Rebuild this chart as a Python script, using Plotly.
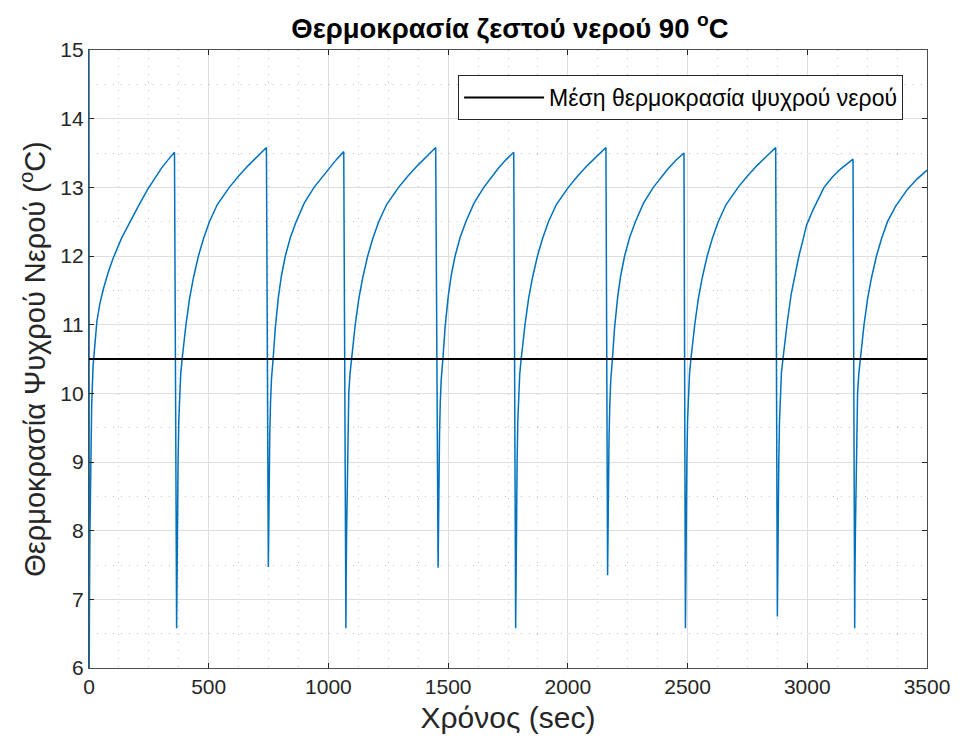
import plotly.graph_objects as go

# Cold-water temperature trace (seconds, °C), one row per charge/discharge cycle
time_s = [
    0, 1, 2, 4, 7, 11, 17, 25, 33, 45, 60, 80, 100, 136, 166, 205, 245, 275, 303, 330, 357,
    366, 367, 369, 372, 375, 378, 383, 389, 396, 405, 420, 436, 457, 478, 503, 536, 586, 626, 666, 706, 741,
    749, 750, 752, 755, 758, 762, 769, 778, 791, 804, 820, 841, 865, 899, 940, 969, 999, 1032, 1064,
    1073, 1074, 1076, 1079, 1082, 1085, 1090, 1096, 1103, 1112, 1127, 1143, 1164, 1185, 1210, 1243, 1293, 1333, 1373, 1413, 1448,
    1458, 1459, 1461, 1464, 1467, 1471, 1478, 1487, 1500, 1513, 1529, 1550, 1574, 1608, 1649, 1678, 1708, 1741, 1774,
    1782, 1783, 1785, 1788, 1791, 1794, 1799, 1805, 1812, 1821, 1836, 1852, 1873, 1894, 1919, 1952, 2002, 2042, 2082, 2122, 2159,
    2166, 2167, 2169, 2172, 2175, 2179, 2186, 2195, 2208, 2221, 2237, 2258, 2282, 2316, 2357, 2386, 2416, 2450, 2485,
    2491, 2492, 2494, 2497, 2500, 2503, 2508, 2514, 2521, 2530, 2545, 2561, 2582, 2603, 2628, 2661, 2711, 2751, 2791, 2831, 2868,
    2875, 2876, 2878, 2881, 2884, 2887, 2892, 2900, 2908, 2917, 2933, 2950, 2965, 2981, 2997, 3025, 3070, 3105, 3140, 3191,
    3198, 3199, 3201, 3204, 3207, 3210, 3215, 3221, 3228, 3237, 3252, 3268, 3289, 3310, 3335, 3368, 3418, 3458, 3500,
]
temp_c = [
    15.0, 6.0, 7.0, 8.0, 9.0, 9.8, 10.4, 10.8, 11.05, 11.3, 11.52, 11.76, 11.96, 12.26, 12.47, 12.72, 12.97, 13.14, 13.28, 13.4, 13.51,
    6.58, 7.3, 8.0, 9.0, 9.6, 10.0, 10.28, 10.5, 10.75, 11.0, 11.38, 11.68, 12.0, 12.25, 12.5, 12.75, 13.0, 13.17, 13.32, 13.46, 13.58,
    7.47, 8.0, 8.7, 9.4, 9.85, 10.2, 10.5, 10.95, 11.4, 11.72, 12.0, 12.27, 12.5, 12.77, 13.0, 13.13, 13.27, 13.4, 13.52,
    6.58, 7.3, 8.0, 9.0, 9.6, 10.0, 10.28, 10.5, 10.75, 11.0, 11.38, 11.68, 12.0, 12.25, 12.5, 12.75, 13.0, 13.17, 13.32, 13.46, 13.58,
    7.46, 8.0, 8.7, 9.4, 9.85, 10.2, 10.5, 10.95, 11.4, 11.72, 12.0, 12.27, 12.5, 12.77, 13.0, 13.13, 13.27, 13.4, 13.51,
    6.58, 7.3, 8.0, 9.0, 9.6, 10.0, 10.28, 10.5, 10.75, 11.0, 11.38, 11.68, 12.0, 12.25, 12.5, 12.75, 13.0, 13.17, 13.32, 13.46, 13.58,
    7.35, 7.95, 8.65, 9.35, 9.82, 10.18, 10.5, 10.95, 11.4, 11.72, 12.0, 12.27, 12.5, 12.77, 13.0, 13.13, 13.26, 13.39, 13.50,
    6.58, 7.3, 8.0, 9.0, 9.6, 10.0, 10.28, 10.5, 10.75, 11.0, 11.38, 11.68, 12.0, 12.25, 12.5, 12.75, 13.0, 13.17, 13.32, 13.46, 13.58,
    6.75, 7.4, 8.0, 9.0, 9.6, 10.0, 10.3, 10.55, 10.8, 11.05, 11.45, 11.75, 12.0, 12.22, 12.45, 12.68, 13.0, 13.15, 13.27, 13.41,
    6.58, 7.3, 8.0, 9.0, 9.6, 10.0, 10.28, 10.5, 10.75, 11.0, 11.38, 11.68, 12.0, 12.25, 12.5, 12.72, 12.97, 13.12, 13.25,
]

# Mean cold-water temperature over the run
mean_span_s = [0, 3500]
mean_temp_c = [10.5, 10.5]

x_ticks = [0, 500, 1000, 1500, 2000, 2500, 3000, 3500]
y_ticks = [6, 7, 8, 9, 10, 11, 12, 13, 14, 15]

FONT = "Liberation Sans, Arial, Helvetica, sans-serif"
AXIS_COLOR = "#262626"

fig = go.Figure()
fig.add_trace(go.Scatter(
    x=time_s, y=temp_c, mode="lines",
    line=dict(color="#0072BD", width=1.5),
    showlegend=False, hoverinfo="x+y",
))
fig.add_trace(go.Scatter(
    x=mean_span_s, y=mean_temp_c, mode="lines",
    line=dict(color="#000000", width=2),
    name="Μέση θερμοκρασία ψυχρού νερού",
))

axis_common = dict(
    showline=True, linecolor="#4d4d4d", linewidth=1.2, mirror="ticks",
    ticks="inside", ticklen=5, tickcolor=AXIS_COLOR, tickwidth=1,
    showgrid=True, gridcolor="#dedede", gridwidth=1,
    zeroline=False,
    tickfont=dict(family=FONT, size=21, color=AXIS_COLOR),
)

fig.update_xaxes(
    range=[0, 3500], tickvals=x_ticks, ticktext=[str(v) for v in x_ticks],
    title=dict(text="Χρόνος (sec)", font=dict(family=FONT, size=30, color=AXIS_COLOR), standoff=9),
    minor=dict(dtick=125, showgrid=True, gridcolor="#bdbdbd", griddash="1px,7px", gridwidth=1, ticks=""),
    **axis_common,
)
fig.update_yaxes(
    range=[6, 15], tickvals=y_ticks, ticktext=[str(v) for v in y_ticks],
    title=dict(text="Θερμοκρασία Ψυχρού Νερού (<sup>o</sup>C)",
               font=dict(family=FONT, size=29, color=AXIS_COLOR), standoff=6),
    minor=dict(dtick=0.5, showgrid=True, gridcolor="#bdbdbd", griddash="1px,7px", gridwidth=1, ticks=""),
    **axis_common,
)

fig.update_layout(
    width=962, height=744,
    margin=dict(l=89, r=31, t=50, b=76),
    paper_bgcolor="white", plot_bgcolor="white",
    title=dict(
        text="<b>Θερμοκρασία ζεστού νερού 90 <sup>o</sup>C</b>",
        x=(89 + 842 / 2) / 962, xanchor="center", y=0.962, yanchor="middle",
        font=dict(family=FONT, size=27.5, color="#000000"),
    ),
    legend=dict(
        x=0.9715, y=0.9595, xanchor="right", yanchor="top",
        bgcolor="white", bordercolor=AXIS_COLOR, borderwidth=1,
        font=dict(family=FONT, size=23, color="#000000"),
        itemwidth=80,
    ),
    showlegend=True,
)

fig.write_html("out.html")
